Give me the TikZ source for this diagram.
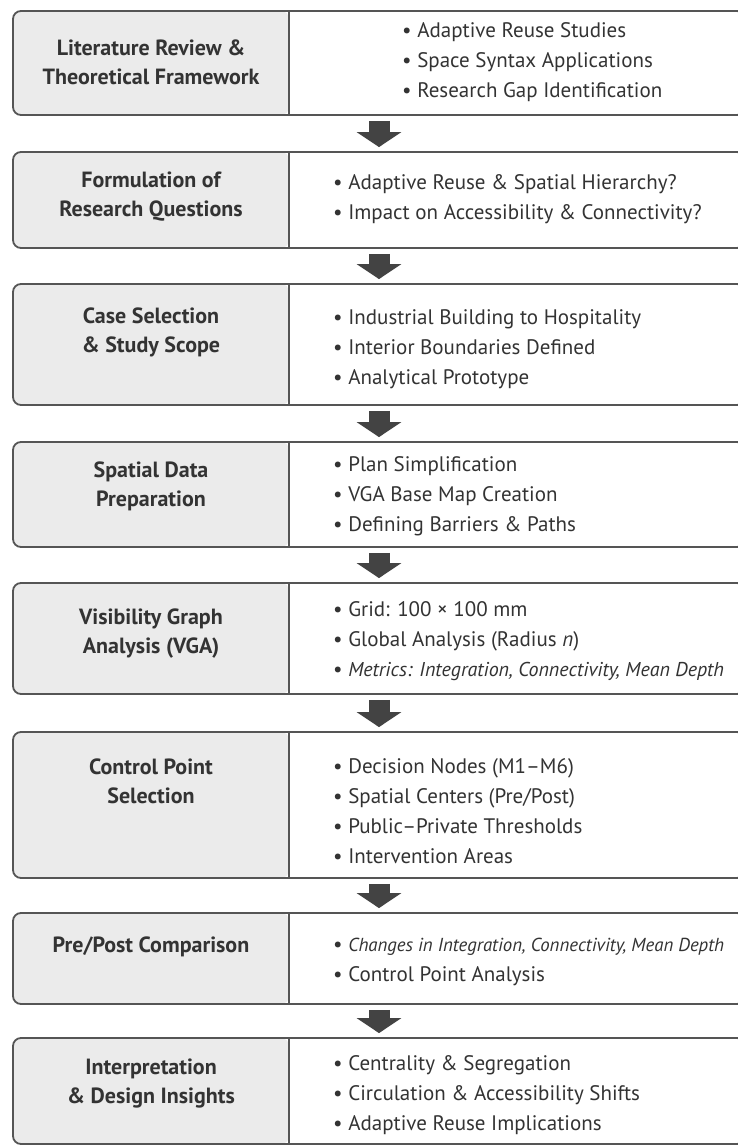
\documentclass[tikz,border=0pt]{standalone}
\usepackage{fontspec}
\setmainfont{PT Sans}
\usepackage{xcolor}
\usetikzlibrary{arrows.meta}
\definecolor{flowGrey}{HTML}{555555}
\definecolor{flowLight}{HTML}{ebebeb}
\definecolor{flowDark}{HTML}{434343}
\definecolor{flowText}{HTML}{333333}
\newcommand{\metric}[2][20]{{\fontsize{#1}{30}\selectfont\itshape #2}}

\begin{document}
\begin{tikzpicture}[x=1pt,y=-1pt]
    \pgfmathsetmacro{\split}{276}
    \tikzset{
        stepbox/.style={draw=flowGrey,line width=1.8pt,rounded corners=8pt,fill=white,
            minimum width=732pt,inner sep=0pt,
            path picture={
                \fill[flowLight] (path picture bounding box.north west) rectangle ([xshift=\split pt]path picture bounding box.south west);
                \draw[flowGrey,line width=1.8pt] ([xshift=\split pt]path picture bounding box.north west) -- ([xshift=\split pt]path picture bounding box.south west);
            }},
        steplabel/.style={text=flowText,align=center,inner sep=0pt,font=\fontsize{22}{29}\selectfont\bfseries},
        stepitems/.style={text=flowText,align=left,anchor=west,inner sep=0pt,font=\fontsize{21}{30}\selectfont},
        flowarrow/.style={draw=flowDark,line width=21pt,-{Triangle[width=44pt,length=15pt]},shorten <=5pt,shorten >=4pt}
    }
    \useasboundingbox (0,0) rectangle (738,1146);
    % boxes
    \foreach \n/\yc/\h in {1/63/104,2/200/96,3/344.5/121,4/494.5/105,5/638.5/111,6/805/146,7/958.5/91,8/1091/106}{
        \node[stepbox,minimum height=\h pt] (s\n) at (379,\yc) {};}
    % left column
    \node[steplabel] (l1) at (151,62) {Literature Review \&\\Theoretical Framework};
    \node[steplabel] (l2) at (151,197) {Formulation of\\Research Questions};
    \node[steplabel] (l3) at (151,332) {Case Selection\\\& Study Scope};
    \node[steplabel] (l4) at (151,486) {Spatial Data\\Preparation};
    \node[steplabel] (l5) at (151,634) {Visibility Graph\\Analysis (VGA)};
    \node[steplabel] (l6) at (151,781) {Control Point\\Selection};
    \node[steplabel] (l7) at (151,947) {Pre/Post Comparison};
    \node[steplabel] (l8) at (151,1083) {Interpretation\\\& Design Insights};
    % right column
    \node[stepitems] (r1) at (402,62.5) {\textbullet\ Adaptive Reuse Studies\\\textbullet\ Space Syntax Applications\\\textbullet\ Research Gap Identification};
    \node[stepitems] (r2) at (333,199) {\textbullet\ Adaptive Reuse \& Spatial Hierarchy?\\\textbullet\ Impact on Accessibility \& Connectivity?};
    \node[stepitems] (r3) at (333,349) {\textbullet\ Industrial Building to Hospitality\\\textbullet\ Interior Boundaries Defined\\\textbullet\ Analytical Prototype};
    \node[stepitems] (r4) at (333,496) {\textbullet\ Plan Simplification\\\textbullet\ VGA Base Map Creation\\\textbullet\ Defining Barriers \& Paths};
    \node[stepitems] (r5) at (333,641.5) {\textbullet\ Grid: 100 × 100 mm\\\textbullet\ Global Analysis (Radius \textit{n})\\\textbullet\ \metric{Metrics: Integration, Connectivity, Mean Depth}};
    \node[stepitems] (r6) at (333,811.5) {\textbullet\ Decision Nodes (M1–M6)\\\textbullet\ Spatial Centers (Pre/Post)\\\textbullet\ Public–Private Thresholds\\\textbullet\ Intervention Areas};
    \node[stepitems] (r7) at (333,962) {\textbullet\ \metric[18.8]{Changes in Integration, Connectivity, Mean Depth}\\\textbullet\ Control Point Analysis};
    \node[stepitems] (r8) at (333,1095) {\textbullet\ Centrality \& Segregation\\\textbullet\ Circulation \& Accessibility Shifts\\\textbullet\ Adaptive Reuse Implications};
    % arrows
    \foreach \a [evaluate=\a as \b using int(\a+1)] in {1,...,7}{
        \draw[flowarrow] (s\a.south) -- (s\b.north);}
\end{tikzpicture}
\end{document}
